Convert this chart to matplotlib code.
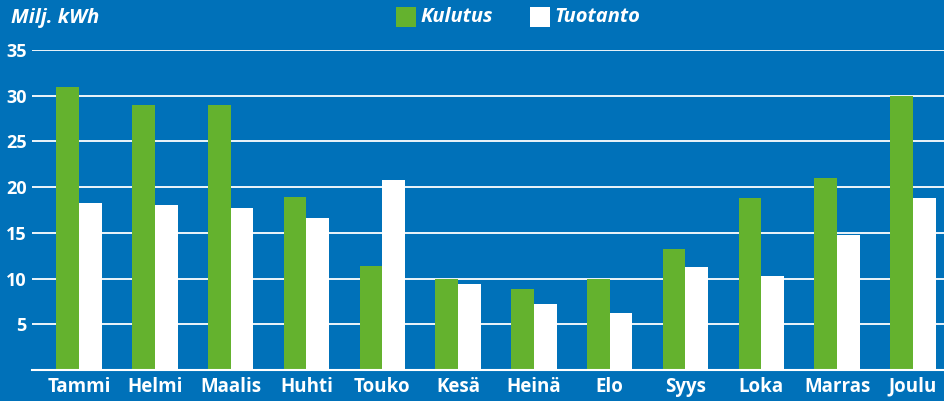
import matplotlib
matplotlib.use("Agg")
import matplotlib.pyplot as plt
import numpy as np
from matplotlib.patches import Rectangle

months = ["Tammi", "Helmi", "Maalis", "Huhti", "Touko", "Kesä", "Heinä",
          "Elo", "Syys", "Loka", "Marras", "Joulu"]
kulutus = [30.9, 29.0, 29.0, 18.9, 11.4, 10.0, 8.9, 9.9, 13.2, 18.8, 21.0, 30.0]
tuotanto = [18.3, 18.1, 17.7, 16.6, 20.8, 9.4, 7.2, 6.2, 11.3, 10.3, 14.8, 18.8]
yticks = [5, 10, 15, 20, 25, 30, 35]
series_names = ["Kulutus", "Tuotanto"]
unit_label = "Milj. kWh"

BLUE = "#0071b9"
GREEN = "#64b22e"
WHITE = "#ffffff"

plt.rcParams['font.family'] = ['Open Sans', 'DejaVu Sans']

fig = plt.figure(figsize=(9.44, 4.01), dpi=100, facecolor=BLUE)
W, H = 944, 401
ax = fig.add_axes([32 / W, 1 - 370 / H, 1 - 32 / W, (370 - 50) / H])
ax.set_facecolor(BLUE)

x = np.arange(len(months))
bw = 0.30
ax.bar(x - bw / 2, kulutus, width=bw, color=GREEN, zorder=3, linewidth=0)
ax.bar(x + bw / 2, tuotanto, width=bw, color=WHITE, zorder=3, linewidth=0)

ax.set_xlim(-0.62, 11.41)
ax.set_ylim(0, 35)
ax.set_yticks(yticks)
ax.set_yticklabels([str(t) for t in yticks])
ax.set_xticks(x)
ax.set_xticklabels(months)
for lab in ax.get_xticklabels():
    lab.set_color(WHITE)
    lab.set_fontweight("bold")
    lab.set_fontsize(13.5)
for lab in ax.get_yticklabels():
    lab.set_color(WHITE)
    lab.set_fontweight("bold")
    lab.set_fontsize(13)
ax.tick_params(axis="both", length=0)
ax.tick_params(axis="x", pad=5)
ax.tick_params(axis="y", pad=4)
ax.yaxis.grid(True, color=WHITE, linewidth=1.3, zorder=1)
ax.set_axisbelow(True)
for s in ["top", "right", "left"]:
    ax.spines[s].set_visible(False)
ax.spines["bottom"].set_color(WHITE)
ax.spines["bottom"].set_linewidth(1.5)
ax.spines["bottom"].set_zorder(4)

fig.text(11 / W, 1 - 18 / H, unit_label, color=WHITE, fontsize=14.5,
         fontweight="bold", fontstyle="italic", va="center", ha="left")

# legend (manual)
colors = [GREEN, WHITE]
box_left = [396, 530]
for name, c, bx in zip(series_names, colors, box_left):
    fig.patches.append(Rectangle((bx / W, 1 - 27 / H), 20 / W, 20 / H,
                                 transform=fig.transFigure, facecolor=c,
                                 edgecolor="none"))
    fig.text((bx + 24) / W, 1 - 17.5 / H, name, color=WHITE, fontsize=14.5,
             fontweight="bold", fontstyle="italic", va="center", ha="left")

fig.savefig("out.png", dpi=100, facecolor=BLUE)
